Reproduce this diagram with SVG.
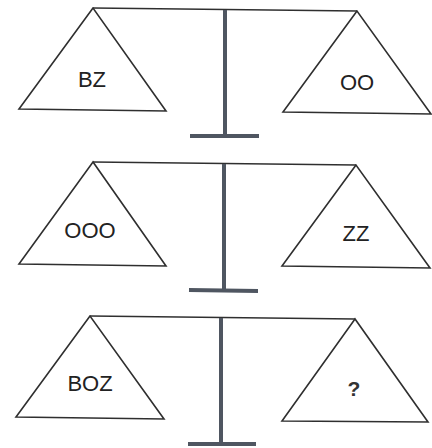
<svg xmlns="http://www.w3.org/2000/svg" width="432" height="448" viewBox="0 0 432 448">
<style>
.line{fill:none;stroke:#2f2f2f;stroke-width:1.6;stroke-linejoin:miter}
.post{stroke:#4f5661;stroke-width:4;fill:none}
.lbl{font-family:"Liberation Sans",Arial,sans-serif;font-size:22px;fill:#222;text-anchor:middle}
.q{font-family:"Liberation Sans",Arial,sans-serif;font-size:21px;font-weight:bold;fill:#333;text-anchor:middle}
</style>
<rect width="432" height="448" fill="#fff"/>
<g id="connectors">
<line class="line" x1="93" y1="8" x2="357" y2="11"/>
<line class="post" x1="225" y1="10" x2="225" y2="136"/>
<line class="post" x1="190" y1="136" x2="259" y2="136"/>
<line class="line" x1="93" y1="162" x2="356" y2="165"/>
<line class="post" x1="224" y1="164" x2="224" y2="290"/>
<line class="post" x1="189" y1="290" x2="258" y2="291"/>
<line class="line" x1="90" y1="316" x2="355" y2="319"/>
<line class="post" x1="221" y1="318" x2="221" y2="444"/>
<line class="post" x1="188" y1="444" x2="256" y2="444"/>
</g>
<g id="pan1L"><polygon class="line" points="93,8 19,109 166,111"/><text class="lbl" x="92" y="87">BZ</text></g>
<g id="pan1R"><polygon class="line" points="357,11 283,112 431,114"/><text class="lbl" x="357" y="90">OO</text></g>
<g id="pan2L"><polygon class="line" points="93,162 19,264 166,266"/><text class="lbl" x="90" y="238">OOO</text></g>
<g id="pan2R"><polygon class="line" points="356,165 282,266 430,268"/><text class="lbl" x="356" y="241">ZZ</text></g>
<g id="pan3L"><polygon class="line" points="90,316 16,417 164,419"/><text class="lbl" x="90" y="391">BOZ</text></g>
<g id="pan3R"><polygon class="line" points="355,319 282,421 428,422"/><text class="q" x="354" y="396">?</text></g>
</svg>
